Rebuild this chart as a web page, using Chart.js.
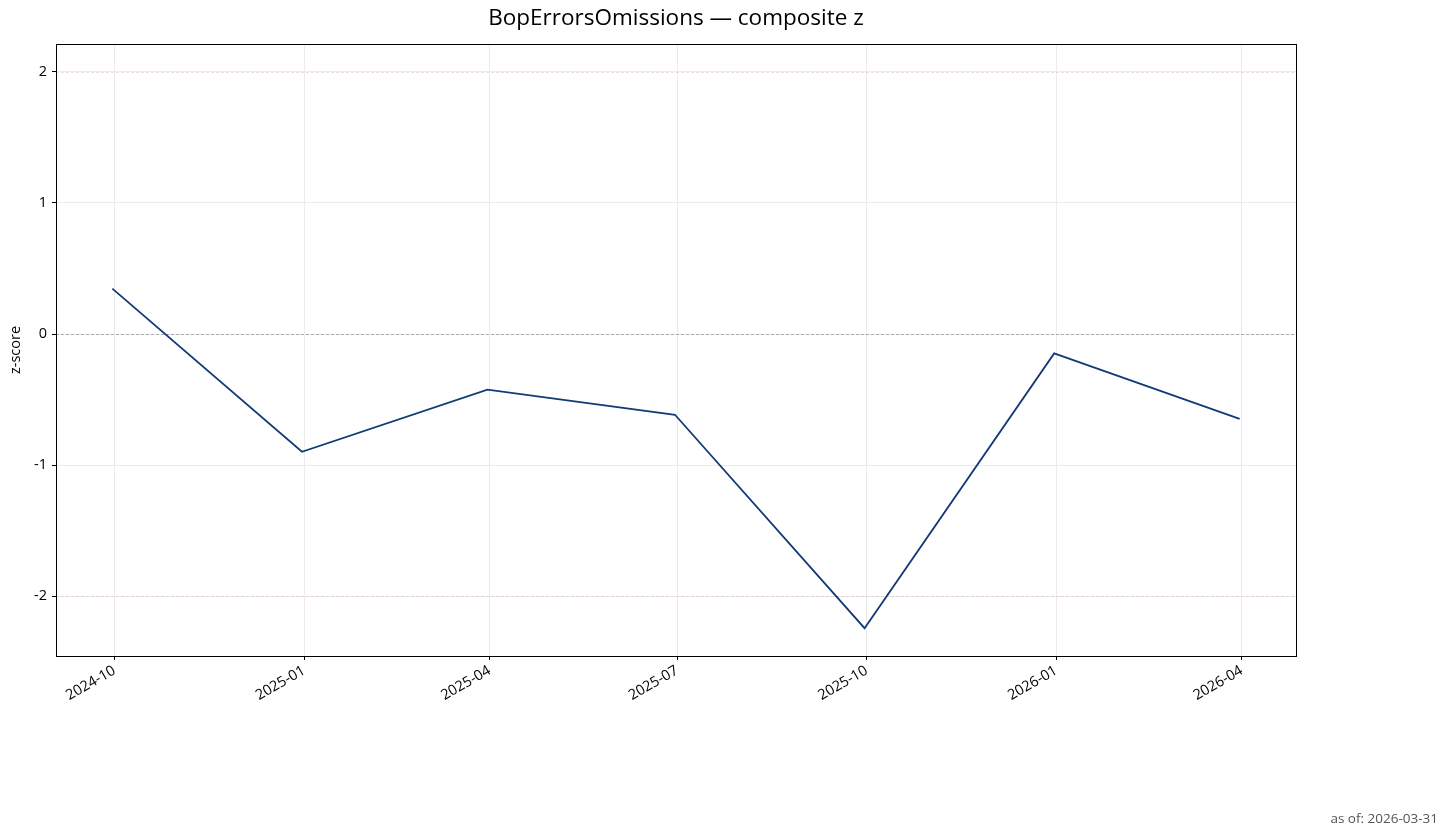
<!DOCTYPE html>
<html>
<head>
<meta charset="utf-8">
<script src="https://cdn.jsdelivr.net/npm/chart.js@4.4.1/dist/chart.umd.min.js"></script>
<style>
  html, body { margin: 0; padding: 0; background: #fff; }
  #wrap { width: 1449px; height: 837px; }
</style>
</head>
<body>
<div id="wrap"><canvas id="chart" width="1449" height="837"></canvas></div>
<script>
// quarter-end observations
const dates = ['2024-09-30', '2024-12-31', '2025-03-31', '2025-06-30', '2025-09-30', '2025-12-31', '2026-03-31'];
const zValues = [0.346, -0.898, -0.425, -0.616, -2.244, -0.148, -0.647];
const xTickLabels = ['2024-10', '2025-01', '2025-04', '2025-07', '2025-10', '2026-01', '2026-04'];
const yTicks = [-2, -1, 0, 1, 2];
const bandLines = [-2, 2];
const asOf = '2026-03-31';

const FONT = "'Open Sans', 'Noto Sans', sans-serif";

function toMs(s) {
    const p = s.split('-').map(Number);
    return Date.UTC(p[0], p[1] - 1, p[2] || 1);
}

const points = dates.map((d, i) => ({ x: toMs(d), y: zValues[i] }));
const tickMs = xTickLabels.map(toMs);

// matplotlib-style 5% margins
const xSpan = toMs(dates[dates.length - 1]) - toMs(dates[0]);
const xMin = toMs(dates[0]) - 0.05 * xSpan;
const xMax = toMs(dates[dates.length - 1]) + 0.05 * xSpan;
const yLo = Math.min(...zValues, ...bandLines);
const yHi = Math.max(...zValues, ...bandLines);
const yMin = yLo - 0.05 * (yHi - yLo);
const yMax = yHi + 0.05 * (yHi - yLo);

const decorPlugin = {
    id: 'decor',
    beforeDatasetsDraw(chart) {
        const ctx = chart.ctx;
        const a = chart.chartArea;
        const y = chart.scales.y;
        ctx.save();
        ctx.lineWidth = 0.8;
        ctx.setLineDash([3, 2]);
        ctx.strokeStyle = 'rgba(214, 150, 160, 0.4)';
        bandLines.forEach(v => {
            const py = Math.round(y.getPixelForValue(v)) + 0.5;
            ctx.beginPath();
            ctx.moveTo(a.left, py);
            ctx.lineTo(a.right, py);
            ctx.stroke();
        });
        ctx.strokeStyle = '#9a9a9a';
        const py0 = Math.round(y.getPixelForValue(0)) + 0.5;
        ctx.beginPath();
        ctx.moveTo(a.left, py0);
        ctx.lineTo(a.right, py0);
        ctx.stroke();
        ctx.restore();
    },
    afterDraw(chart) {
        const ctx = chart.ctx;
        const a = chart.chartArea;
        ctx.save();
        ctx.strokeStyle = '#000';
        ctx.lineWidth = 1;
        ctx.strokeRect(Math.round(a.left) + 0.5, Math.round(a.top) + 0.5,
            Math.round(a.right - a.left), Math.round(a.bottom - a.top));

        ctx.fillStyle = '#000';
        ctx.font = '22.5px ' + FONT;
        ctx.textAlign = 'center';
        ctx.textBaseline = 'middle';
        ctx.fillText('BopErrorsOmissions \u2014 composite z', (a.left + a.right) / 2, 19);

        ctx.fillStyle = '#555';
        ctx.font = '13.5px ' + FONT;
        ctx.textAlign = 'right';
        ctx.fillText('as of: ' + asOf, 1438, 819);
        ctx.restore();
    }
};

new Chart(document.getElementById('chart').getContext('2d'), {
    type: 'line',
    data: {
        datasets: [{
            label: 'composite z',
            data: points,
            borderColor: '#123a78',
            borderWidth: 1.8,
            pointRadius: 0,
            tension: 0,
            fill: false
        }]
    },
    options: {
        responsive: false,
        animation: false,
        devicePixelRatio: 1,
        layout: { padding: { top: 44, right: 153, bottom: 0, left: 0 } },
        plugins: {
            legend: { display: false },
            tooltip: { enabled: false },
            title: { display: false }
        },
        scales: {
            x: {
                type: 'linear',
                min: xMin,
                max: xMax,
                afterBuildTicks: s => { s.ticks = tickMs.map(v => ({ value: v })); },
                afterFit: s => { s.height = 181; },
                ticks: {
                    autoSkip: false,
                    maxRotation: 30,
                    minRotation: 30,
                    padding: 2,
                    color: '#000',
                    font: { family: FONT, size: 14.5 },
                    callback: v => xTickLabels[tickMs.indexOf(v)]
                },
                grid: {
                    color: '#ebebeb',
                    lineWidth: 1,
                    tickColor: '#000',
                    tickLength: 4
                },
                border: { display: false }
            },
            y: {
                type: 'linear',
                min: yMin,
                max: yMax,
                afterBuildTicks: s => { s.ticks = yTicks.map(v => ({ value: v })); },
                afterFit: s => { s.width = 56; },
                ticks: {
                    padding: 5,
                    color: '#000',
                    font: { family: FONT, size: 14.5 },
                    callback: v => String(v)
                },
                grid: {
                    color: '#ebebeb',
                    lineWidth: 1,
                    tickColor: '#000',
                    tickLength: 4
                },
                border: { display: false },
                title: {
                    display: true,
                    text: 'z-score',
                    color: '#000',
                    font: { family: FONT, size: 14.5 },
                    padding: { top: 7, bottom: 0 }
                }
            }
        }
    },
    plugins: [decorPlugin]
});
</script>
</body>
</html>
